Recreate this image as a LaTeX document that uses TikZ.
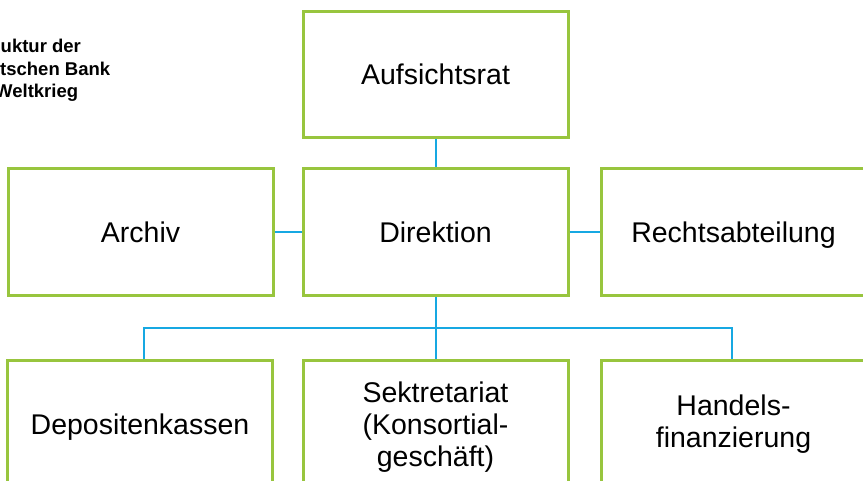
\documentclass[tikz,border=0pt]{standalone}
\usepackage{fontspec}
\setmainfont{Liberation Sans}
\definecolor{boxgreen}{RGB}{152,197,62}
\definecolor{lineblue}{RGB}{22,168,226}
\begin{document}
\begin{tikzpicture}[x=1pt,y=-1pt,
  orgbox/.style={draw=boxgreen,line width=3pt,fill=white,rectangle,inner sep=0pt,
    minimum width=265pt,minimum height=127pt,align=center,
    font=\fontsize{28.5}{32}\selectfont},
  oneline/.style={text height=20pt,text depth=0pt},
  link/.style={draw=lineblue,line width=2pt},
  titleline/.style={anchor=base west,inner sep=0pt,font=\bfseries\fontsize{18.5}{22}\selectfont}]
\useasboundingbox (0,0) rectangle (863,481);
\node[titleline] (t1) at (0.5,53) {uktur der};
\node[titleline] (t2) at (0,75.5) {tschen Bank};
\node[titleline] (t3) at (-5,98) {Weltkrieg};

\node[orgbox,oneline,minimum height=126pt] (auf) at (435.5,75) {Aufsichtsrat};
\node[orgbox,oneline] (dir) at (435.5,232.5) {Direktion};
\node[orgbox,oneline] (arc) at (140.5,232.5) {Archiv};
\node[orgbox,oneline] (rec) at (733.5,232.5) {Rechtsabteilung};
\node[orgbox,oneline] (dep) at (140,424.5) {Depositenkassen};
\node[orgbox] (sek) at (435.5,424.5) {\raisebox{-4pt}[\height][\depth]{\begin{tabular}{@{}c@{}}Sektretariat\\(Konsortial-\\geschäft)\end{tabular}}};
\node[orgbox] (han) at (733.5,424.5) {Handels-\\finanzierung};

\coordinate (bus) at (435.5,328);
\draw[link] (auf.south) -- (dir.north);
\draw[link] (arc.east) -- (dir.west);
\draw[link] (dir.east) -- (rec.west);
\draw[link] (dir.south) -- (sek.north);
\draw[link] ([xshift=4pt]dep.north) |- (bus) -| ([xshift=-1.5pt]han.north);
\end{tikzpicture}
\end{document}
